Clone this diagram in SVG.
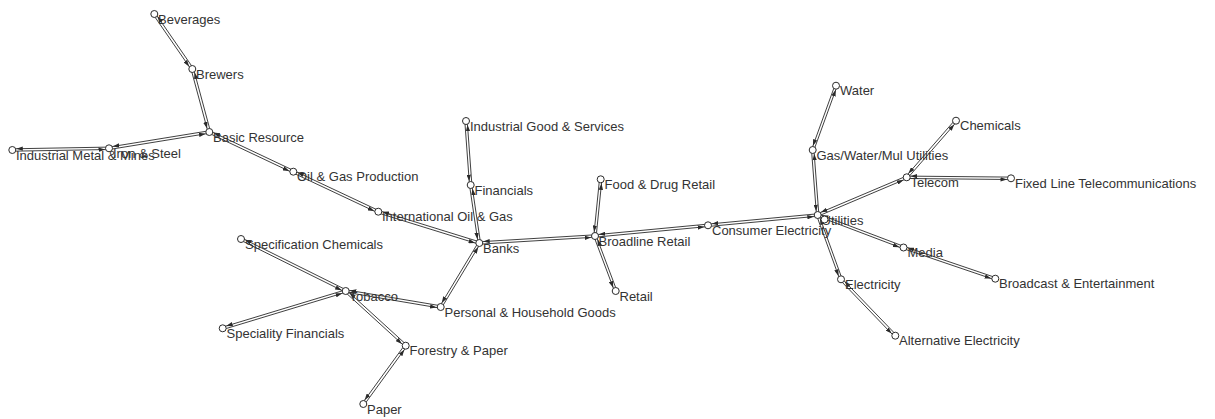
<svg xmlns="http://www.w3.org/2000/svg" width="1215" height="419" viewBox="0 0 1215 419">
<style>
.e{stroke:#2a2a2a;stroke-width:0.9;fill:none;marker-end:url(#arr)}
.n circle{fill:#fff;stroke:#2a2a2a;stroke-width:1}
.n text{font-family:"Liberation Sans",Arial,sans-serif;font-size:13px;fill:#333}
</style>
<defs>
<marker id="arr" markerUnits="userSpaceOnUse" markerWidth="6.5" markerHeight="4.4" viewBox="0 0 6.5 4.4" refX="10.5" refY="2.2" orient="auto">
<path d="M0,0 L6.5,2.2 L0,4.4 z" fill="#2a2a2a"/>
</marker>
</defs>
<rect width="1215" height="419" fill="#fff"/>
<g id="connectors">
<line class="e" x1="153.3" y1="14.7" x2="191.3" y2="69.7"/><line class="e" x1="193.3" y1="68.3" x2="155.3" y2="13.3"/>
<line class="e" x1="191.1" y1="69.3" x2="208.1" y2="132.3"/><line class="e" x1="210.5" y1="131.7" x2="193.5" y2="68.7"/>
<line class="e" x1="209.1" y1="130.8" x2="108.8" y2="147.1"/><line class="e" x1="109.2" y1="149.5" x2="209.5" y2="133.2"/>
<line class="e" x1="109" y1="147.1" x2="12.3" y2="148.8"/><line class="e" x1="12.3" y1="151.2" x2="109" y2="149.5"/>
<line class="e" x1="208.8" y1="133.1" x2="292.8" y2="172.8"/><line class="e" x1="293.8" y1="170.6" x2="209.8" y2="130.9"/>
<line class="e" x1="292.8" y1="172.8" x2="377.8" y2="212.8"/><line class="e" x1="378.8" y1="210.6" x2="293.8" y2="170.6"/>
<line class="e" x1="377.9" y1="212.9" x2="478.9" y2="244.2"/><line class="e" x1="479.7" y1="241.9" x2="378.7" y2="210.6"/>
<line class="e" x1="464.8" y1="121.1" x2="469.5" y2="185.1"/><line class="e" x1="471.9" y1="184.9" x2="467.2" y2="120.9"/>
<line class="e" x1="469.5" y1="185.2" x2="478.1" y2="243.2"/><line class="e" x1="480.5" y1="242.8" x2="471.9" y2="184.8"/>
<line class="e" x1="479.4" y1="244.2" x2="595.1" y2="237.2"/><line class="e" x1="594.9" y1="234.8" x2="479.2" y2="241.8"/>
<line class="e" x1="478.3" y1="242.4" x2="439.7" y2="306.4"/><line class="e" x1="441.7" y1="307.6" x2="480.3" y2="243.6"/>
<line class="e" x1="440.9" y1="305.8" x2="345.9" y2="289.8"/><line class="e" x1="345.5" y1="292.2" x2="440.5" y2="308.2"/>
<line class="e" x1="346.2" y1="289.9" x2="241.5" y2="237.9"/><line class="e" x1="240.5" y1="240.1" x2="345.2" y2="292.1"/>
<line class="e" x1="345.4" y1="289.9" x2="222.4" y2="327.2"/><line class="e" x1="223" y1="329.5" x2="346" y2="292.2"/>
<line class="e" x1="344.9" y1="291.9" x2="404.9" y2="346.6"/><line class="e" x1="406.5" y1="344.8" x2="346.5" y2="290.1"/>
<line class="e" x1="404.7" y1="345" x2="362.3" y2="403.3"/><line class="e" x1="364.3" y1="404.7" x2="406.7" y2="346.4"/>
<line class="e" x1="596.2" y1="236.1" x2="601.9" y2="179.4"/><line class="e" x1="599.5" y1="179.2" x2="593.8" y2="235.9"/>
<line class="e" x1="593.9" y1="236.4" x2="614.6" y2="291.4"/><line class="e" x1="616.8" y1="290.6" x2="596.1" y2="235.6"/>
<line class="e" x1="595.1" y1="237.2" x2="708.1" y2="226.5"/><line class="e" x1="707.9" y1="224.1" x2="594.9" y2="234.8"/>
<line class="e" x1="708.1" y1="226.5" x2="817.8" y2="216.2"/><line class="e" x1="817.6" y1="213.8" x2="707.9" y2="224.1"/>
<line class="e" x1="818.9" y1="214.9" x2="813.9" y2="149.9"/><line class="e" x1="811.5" y1="150.1" x2="816.5" y2="215.1"/>
<line class="e" x1="813.8" y1="150.4" x2="837.1" y2="86.1"/><line class="e" x1="834.9" y1="85.3" x2="811.6" y2="149.6"/>
<line class="e" x1="818.2" y1="216.1" x2="907.2" y2="178.4"/><line class="e" x1="906.2" y1="176.2" x2="817.2" y2="213.9"/>
<line class="e" x1="907.6" y1="178.1" x2="956.9" y2="121.5"/><line class="e" x1="955.1" y1="119.9" x2="905.8" y2="176.5"/>
<line class="e" x1="906.7" y1="178.5" x2="1011" y2="179.5"/><line class="e" x1="1011" y1="177.1" x2="906.7" y2="176.1"/>
<line class="e" x1="817.3" y1="216.1" x2="903.1" y2="248.6"/><line class="e" x1="903.9" y1="246.4" x2="818.1" y2="213.9"/>
<line class="e" x1="903.1" y1="248.6" x2="994.9" y2="279.8"/><line class="e" x1="995.7" y1="277.6" x2="903.9" y2="246.4"/>
<line class="e" x1="816.6" y1="215.4" x2="839.9" y2="279.7"/><line class="e" x1="842.1" y1="278.9" x2="818.8" y2="214.6"/>
<line class="e" x1="840.1" y1="280.1" x2="894.4" y2="336.5"/><line class="e" x1="896.2" y1="334.9" x2="841.9" y2="278.5"/>
</g>
<g id="n-beverages" class="n"><text x="158" y="23.5">Beverages</text><circle cx="154.3" cy="14" r="3.5"/></g>
<g id="n-brewers" class="n"><text x="196" y="78.5">Brewers</text><circle cx="192.3" cy="69" r="3.5"/></g>
<g id="n-basic-resource" class="n"><text x="213" y="141.5">Basic Resource</text><circle cx="209.3" cy="132" r="3.5"/></g>
<g id="n-iron-steel" class="n"><text x="113" y="157.8">Iron &amp; Steel</text><circle cx="109" cy="148.3" r="3.5"/></g>
<g id="n-industrial-metal" class="n"><text x="16" y="159.5">Industrial Metal &amp; Mines</text><circle cx="12.3" cy="150" r="3.5"/></g>
<g id="n-oil-gas-production" class="n"><text x="297" y="181.2">Oil &amp; Gas Production</text><circle cx="293.3" cy="171.7" r="3.5"/></g>
<g id="n-international-oil" class="n"><text x="382" y="221.2">International Oil &amp; Gas</text><circle cx="378.3" cy="211.7" r="3.5"/></g>
<g id="n-banks" class="n"><text x="483" y="252.5">Banks</text><circle cx="479.3" cy="243" r="3.5"/></g>
<g id="n-industrial-good" class="n"><text x="470" y="130.5">Industrial Good &amp; Services</text><circle cx="466" cy="121" r="3.5"/></g>
<g id="n-financials" class="n"><text x="474.5" y="194.5">Financials</text><circle cx="470.7" cy="185" r="3.5"/></g>
<g id="n-food-drug" class="n"><text x="604.5" y="188.8">Food &amp; Drug Retail</text><circle cx="600.7" cy="179.3" r="3.5"/></g>
<g id="n-broadline" class="n"><text x="598.5" y="245.5">Broadline Retail</text><circle cx="595" cy="236" r="3.5"/></g>
<g id="n-retail" class="n"><text x="619.5" y="300.5">Retail</text><circle cx="615.7" cy="291" r="3.5"/></g>
<g id="n-consumer-electricity" class="n"><text x="712" y="234.8">Consumer Electricity</text><circle cx="708" cy="225.3" r="3.5"/></g>
<g id="n-utilities" class="n"><text x="821.5" y="224.5">Utilities</text><circle cx="817.7" cy="215" r="3.5"/></g>
<g id="n-utilities-2" class="n"><circle cx="824.5" cy="219.5" r="3.5"/></g>
<g id="n-electricity" class="n"><text x="845" y="288.8">Electricity</text><circle cx="841" cy="279.3" r="3.5"/></g>
<g id="n-specification-chemicals" class="n"><text x="245" y="248.5">Specification Chemicals</text><circle cx="241" cy="239" r="3.5"/></g>
<g id="n-tobacco" class="n"><text x="349.5" y="300.5">Tobacco</text><circle cx="345.7" cy="291" r="3.5"/></g>
<g id="n-personal-household" class="n"><text x="444.5" y="316.5">Personal &amp; Household Goods</text><circle cx="440.7" cy="307" r="3.5"/></g>
<g id="n-speciality-financials" class="n"><text x="226.5" y="337.8">Speciality Financials</text><circle cx="222.7" cy="328.3" r="3.5"/></g>
<g id="n-forestry-paper" class="n"><text x="409.5" y="355.2">Forestry &amp; Paper</text><circle cx="405.7" cy="345.7" r="3.5"/></g>
<g id="n-paper" class="n"><text x="367" y="413.5">Paper</text><circle cx="363.3" cy="404" r="3.5"/></g>
<g id="n-water" class="n"><text x="840" y="95.2">Water</text><circle cx="836" cy="85.7" r="3.5"/></g>
<g id="n-gas-water" class="n"><text x="816.5" y="159.5">Gas/Water/Mul Utilities</text><circle cx="812.7" cy="150" r="3.5"/></g>
<g id="n-chemicals" class="n"><text x="960" y="130.2">Chemicals</text><circle cx="956" cy="120.7" r="3.5"/></g>
<g id="n-telecom" class="n"><text x="910.5" y="186.8">Telecom</text><circle cx="906.7" cy="177.3" r="3.5"/></g>
<g id="n-fixed-line" class="n"><text x="1015" y="187.8">Fixed Line Telecommunications</text><circle cx="1011" cy="178.3" r="3.5"/></g>
<g id="n-media" class="n"><text x="907.5" y="257">Media</text><circle cx="903.5" cy="247.5" r="3.5"/></g>
<g id="n-broadcast" class="n"><text x="999" y="288.2">Broadcast &amp; Entertainment</text><circle cx="995.3" cy="278.7" r="3.5"/></g>
<g id="n-alternative-electricity" class="n"><text x="899" y="345.2">Alternative Electricity</text><circle cx="895.3" cy="335.7" r="3.5"/></g>
</svg>
